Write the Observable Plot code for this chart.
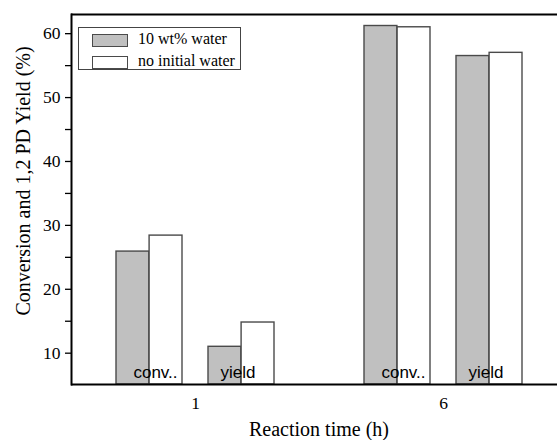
<!DOCTYPE html>
<html><head><meta charset="utf-8">
<script src="https://cdn.jsdelivr.net/npm/d3@7"></script>
<script src="https://cdn.jsdelivr.net/npm/@observablehq/plot@0.6"></script>
<style>
html,body{margin:0;padding:0;background:#fff;overflow:hidden}
#wrap{position:relative;width:557px;height:440px;overflow:hidden}
#wrap svg{position:absolute;left:0;top:0}
#wrap svg text{font-family:'Liberation Serif','Times New Roman',serif !important;font-size:17.5px !important}
#wrap svg g[aria-label="text"] text{font-family:'Liberation Sans',Arial,sans-serif !important;font-size:17px !important}
#wrap svg g[aria-label="frame"] line{stroke-width:2px}
#wrap svg g[aria-label="y-axis tick"] path{stroke-width:1.3px}
.legend{position:absolute;left:78px;top:27px;width:163px;height:43px;box-sizing:border-box;border:1px solid #444;background:#fff;font-family:'Liberation Serif','Times New Roman',serif;font-size:16px;color:#000}
.legend .item{position:absolute;left:0;height:16px;white-space:nowrap}
.legend .sw{position:absolute;left:13px;top:1px;width:36px;height:13px;box-sizing:border-box;border:1.4px solid #4a4a4a}
.legend .lab{position:absolute;left:59px;top:-3px}
.ylab{position:absolute;left:23px;top:181px;transform:translate(-50%,-50%) rotate(-90deg);font-family:'Liberation Serif','Times New Roman',serif;font-size:20px;white-space:nowrap;color:#000}
.xlab{position:absolute;left:319px;top:429px;transform:translate(-50%,-50%);font-family:'Liberation Serif','Times New Roman',serif;font-size:20px;white-space:nowrap;color:#000}
</style></head><body><div id="wrap"></div>
<script>
const times = ["1", "6"];
const measures = ["conv", "yield"];
const measureLabels = ["conv..", "yield"];
const seriesNames = ["10 wt% water", "no initial water"];
const seriesFills = ["#c0c0c0", "#ffffff"];
const water10 = [25.9, 11.0, 61.2, 56.5];
const noWater = [28.4, 14.8, 61.0, 57.0];
const yMajorTicks = [10, 20, 30, 40, 50, 60];
const yMinorTicks = [15, 25, 35, 45, 55];
const yDomain = [5.1, 63];
const yLabel = "Conversion and 1,2 PD Yield (%)";
const xLabel = "Reaction time (h)";

const rows = [];
times.forEach((t, i) => measures.forEach((m, j) => {
  const k = i * measures.length + j;
  rows.push({time: t, measure: m, label: measureLabels[j], w10: water10[k], w0: noWater[k]});
}));

const half = 33.1;
const sans = "'Liberation Sans', Arial, sans-serif";
const chart = Plot.plot({
  width: 557, height: 440,
  marginLeft: 70, marginRight: -10, marginTop: 14, marginBottom: 56,
  style: {fontFamily: "'Liberation Serif','Times New Roman',serif", fontSize: "17px", color: "#000", background: "transparent", overflow: "hidden"},
  facet: {data: rows, x: "time"},
  fx: {domain: times, padding: 0, axis: "bottom", tickSize: 0, tickPadding: 12, label: null},
  x: {domain: measures, paddingInner: 0.288, paddingOuter: 0.479, axis: null},
  y: {domain: yDomain, ticks: [...yMajorTicks, ...yMinorTicks], tickFormat: d => yMajorTicks.includes(d) ? String(d) : "", tickSize: 6, tickPadding: 5, line: true, label: null},
  marks: [
    Plot.barY(rows, {x: "measure", y1: () => yDomain[0], y2: "w10", fill: seriesFills[0], stroke: "#4a4a4a", strokeWidth: 1.4, insetRight: half}),
    Plot.barY(rows, {x: "measure", y1: () => yDomain[0], y2: "w0", fill: seriesFills[1], stroke: "#4a4a4a", strokeWidth: 1.4, insetLeft: half}),
    Plot.text(rows, {filter: d => d.measure === "conv", x: "measure", y: () => yDomain[0], text: "label", dx: 6, dy: -12, fontFamily: sans, fontSize: 17}),
    Plot.text(rows, {filter: d => d.measure === "yield", x: "measure", y: () => yDomain[0], text: "label", dx: -3.5, dy: -12, fontFamily: sans, fontSize: 17}),
    Plot.ruleY([yDomain[1]], {strokeWidth: 2.2}),
    Plot.ruleY([yDomain[0]], {strokeWidth: 2.2})
  ]
});
const wrap = document.getElementById("wrap");
wrap.appendChild(chart);

const leg = document.createElement("div");
leg.className = "legend";
seriesNames.forEach((name, i) => {
  const it = document.createElement("div");
  it.className = "item";
  it.style.top = (5 + i * 22) + "px";
  it.innerHTML = `<div class="sw" style="background:${seriesFills[i]}"></div><div class="lab"></div>`;
  it.querySelector(".lab").textContent = name;
  leg.appendChild(it);
});
wrap.appendChild(leg);

const yl = document.createElement("div");
yl.className = "ylab";
yl.textContent = yLabel;
wrap.appendChild(yl);

const xl = document.createElement("div");
xl.className = "xlab";
xl.textContent = xLabel;
wrap.appendChild(xl);
</script>
</body></html>
